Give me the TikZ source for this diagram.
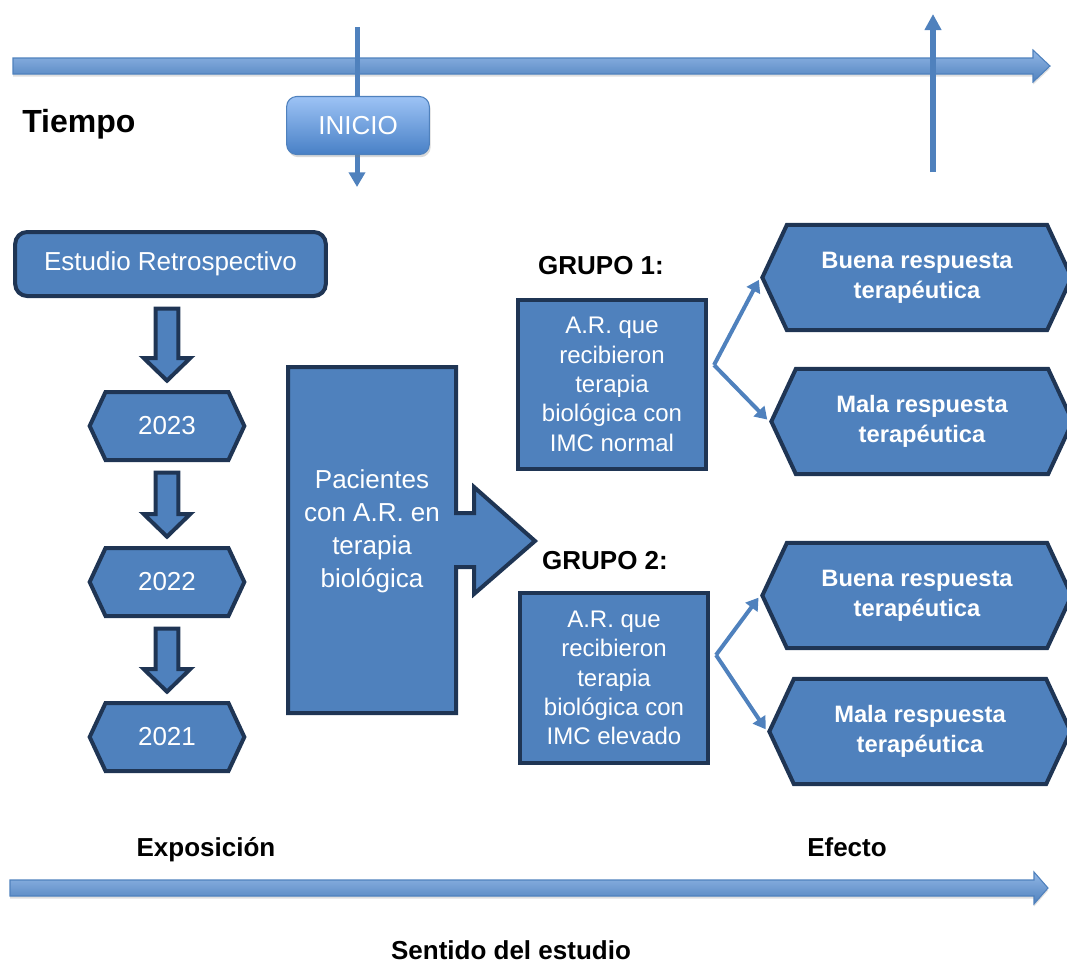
\documentclass[tikz,border=0pt]{standalone}
\usepackage{fontspec}
\setmainfont{Liberation Sans}
\usetikzlibrary{shapes.symbols,arrows.meta,calc,shadows}
\definecolor{boxblue}{RGB}{79,129,189}
\definecolor{boxedge}{RGB}{31,53,84}
\definecolor{barlight}{RGB}{146,183,230}
\definecolor{startlight}{RGB}{157,195,245}
\definecolor{startdark}{RGB}{72,128,198}
\newcommand{\hexstrut}{\rule{0pt}{19pt}}

\begin{document}
\begin{tikzpicture}[x=0.75pt,y=-0.75pt]
  \tikzstyle{stage} = [rectangle, fill=boxblue, draw=boxedge, line width=3pt, text=white, align=center, font=\fontsize{19.5}{24.75}\selectfont]
  \tikzstyle{yearhex} = [signal, signal to=west and east, signal pointer angle=130, fill=boxblue, draw=boxedge, line width=3pt, text=white, align=center, font=\fontsize{19.5}{24}\selectfont, minimum width=116pt, minimum height=51pt]
  \tikzstyle{outcome} = [yearhex, minimum width=232pt, minimum height=79pt, font=\bfseries\fontsize{17.8}{22.5}\selectfont, execute at begin node=\hexstrut]
  \tikzstyle{grupobox} = [stage, minimum width=141pt, minimum height=127pt, font=\fontsize{18}{22}\selectfont]
  \tikzstyle{heading} = [font=\bfseries\fontsize{19.5}{24}\selectfont, inner sep=0pt]
  \tikzstyle{timebar} = [top color=barlight, bottom color=boxblue, draw=boxblue, line width=0.8pt, drop shadow={opacity=0.25, shadow xshift=0pt, shadow yshift=-2pt}]
  \tikzstyle{startline} = [draw=boxblue, line width=3.75pt, -{Triangle[width=12pt,length=11pt]}]
  \tikzstyle{forkarrow} = [draw=boxblue, line width=3pt, -{Triangle[width=11pt,length=9pt]}, shorten >=2pt]
  \tikzstyle{blockdown} = [fill=boxblue, draw=boxedge, line width=3pt, line join=miter]

  \clip (0,0) rectangle (1067,965);

  \path[timebar] (13,58) -- (1033,58) -- (1033,50) -- (1050,66) -- (1033,82) -- (1033,74) -- (13,74) -- cycle;

  \coordinate (inicio-top) at (357,27);
  \coordinate (inicio-end) at (357,187);
  \draw[startline] (inicio-top) -- (inicio-end);
  \node (inicio) [rectangle, rounded corners=7.5pt, top color=startlight, bottom color=startdark, draw=boxblue, line width=0.8pt, minimum width=107pt, minimum height=43.5pt, text=white, font=\fontsize{19.5}{24}\selectfont, drop shadow={opacity=0.3, shadow xshift=1pt, shadow yshift=-2pt}] at (358,125.5) {INICIO};

  \coordinate (efecto-base) at (933,172);
  \coordinate (efecto-top) at (933,14);
  \draw[startline, line width=4.5pt, -{Triangle[width=12pt,length=12pt]}] (efecto-base) -- (efecto-top);

  \node (tiempo) [heading, font=\bfseries\fontsize{24}{28}\selectfont, anchor=base west] at (22,132) {Tiempo};

  \node (estudio) [stage, rounded corners=9pt, minimum width=233pt, minimum height=48pt] at (170.5,264) {Estudio Retrospectivo};
  \node (y2023) [yearhex] at (167,426) {2023};
  \node (y2022) [yearhex] at (167,582) {2022};
  \node (y2021) [yearhex] at (167,737) {2021};

  \foreach \a/\b in {estudio/y2023, y2023/y2022, y2022/y2021}
    \draw[blockdown] let \p1=(\a.south), \p2=(\b.north) in
      (\x2-8.5pt,\y1-8pt) -- (\x2+8.5pt,\y1-8pt) -- (\x2+8.5pt,\y2+24pt) -- (\x2+17.5pt,\y2+24pt)
      -- (\x2,\y2+7pt) -- (\x2-17.5pt,\y2+24pt) -- (\x2-8.5pt,\y2+24pt) -- cycle;

  \draw[blockdown] (288,367) -- (456,367) -- (456,513) -- (474,513) -- (474,487) -- (535,541)
    -- (474,594) -- (474,567) -- (456,567) -- (456,713) -- (288,713) -- cycle;
  \node (pacientes) [text=white, align=center, font=\fontsize{19.5}{24.75}\selectfont] at (372,531) {Pacientes\\con A.R. en\\terapia\\biológica};

  \node (grupo1) [heading] at (601,266) {GRUPO 1:};
  \node (grupo2) [heading] at (605,561) {GRUPO 2:};
  \node (g1) [grupobox] at (612,384.5) {A.R. que\\recibieron\\terapia\\biológica con\\IMC normal};
  \node (g2) [grupobox] at (614,678) {A.R. que\\recibieron\\terapia\\biológica con\\IMC elevado};

  \node (buena1) [outcome] at (917,277.5) {Buena respuesta\\terapéutica};
  \node (mala1) [outcome, minimum width=226pt] at (922,421.5) {Mala respuesta\\terapéutica};
  \node (buena2) [outcome] at (917,595.5) {Buena respuesta\\terapéutica};
  \node (mala2) [outcome, minimum width=226pt] at (920,731.5) {Mala respuesta\\terapéutica};

  \coordinate (g1-fork) at ($(g1.east)+(6,-19.5)$);
  \coordinate (g2-fork) at ($(g2.east)+(6,-23)$);
  \draw[forkarrow] (g1-fork) -- (buena1.west);
  \draw[forkarrow] (g1-fork) -- (mala1.west);
  \draw[forkarrow] (g2-fork) -- (buena2.west);
  \draw[forkarrow] (g2-fork) -- (mala2.west);

  \node (exposicion) [heading, anchor=base] at (206,856) {Exposición};
  \node (efecto) [heading, anchor=base] at (847,856) {Efecto};
  \path[timebar] (10,880) -- (1034,880) -- (1034,872) -- (1048,888) -- (1034,904) -- (1034,896) -- (10,896) -- cycle;
  \node (sentido) [heading, anchor=base] at (511,959) {Sentido del estudio};
\end{tikzpicture}
\end{document}
